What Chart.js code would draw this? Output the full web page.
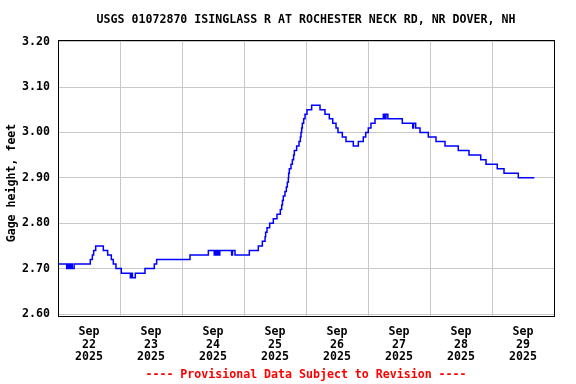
<!DOCTYPE html>
<html>
<head>
<meta charset="utf-8">
<title>USGS 01072870 gage height</title>
<script src="https://cdn.jsdelivr.net/npm/chart.js@4/dist/chart.umd.min.js"></script>
<style>
  body { margin: 0; background: #fff; }
  canvas { display: block; }
</style>
</head>
<body>
<canvas id="gageChart" width="576" height="384"></canvas>
<script>
// days since Sep 22 2025 00:00 where the reading changes
const changeDays = [0, 0.14, 0.155, 0.18, 0.19, 0.205, 0.215, 0.23, 0.26,
  0.521, 0.554, 0.575, 0.608, 0.731, 0.801, 0.86, 0.892, 0.935, 1.021,
  1.167, 1.18, 1.2, 1.247, 1.403, 1.553, 1.591, 2.129, 2.425,
  2.52, 2.535, 2.555, 2.57, 2.59, 2.61, 2.8, 2.815, 2.855, 3.086,
  3.231, 3.296, 3.34, 3.349, 3.371, 3.414, 3.473, 3.532, 3.586, 3.608,
  3.62, 3.634, 3.661, 3.683, 3.699, 3.715, 3.72, 3.731, 3.758, 3.78,
  3.8, 3.812, 3.849, 3.887, 3.909, 3.919, 3.93, 3.941, 3.962, 3.984,
  4.016, 4.091, 4.226, 4.306, 4.376, 4.431, 4.484, 4.516, 4.586, 4.645, 4.763,
  4.844, 4.924, 4.963, 5.005, 5.048, 5.113, 5.247, 5.27, 5.29, 5.32,
  5.553, 5.721, 5.735, 5.769, 5.839, 5.973, 6.097, 6.242, 6.456, 6.629,
  6.818, 6.903, 7.085, 7.194, 7.424, 7.682];

// gage height, feet
const gageFeet = [2.71, 2.70, 2.71, 2.70, 2.71, 2.70, 2.71, 2.70, 2.71,
  2.72, 2.73, 2.74, 2.75, 2.74, 2.73, 2.72, 2.71, 2.70, 2.69,
  2.68, 2.69, 2.68, 2.69, 2.70, 2.71, 2.72, 2.73, 2.74,
  2.73, 2.74, 2.73, 2.74, 2.73, 2.74, 2.73, 2.74, 2.73, 2.74,
  2.75, 2.76, 2.77, 2.78, 2.79, 2.80, 2.81, 2.82, 2.83, 2.84,
  2.85, 2.86, 2.87, 2.88, 2.89, 2.90, 2.91, 2.92, 2.93, 2.94,
  2.95, 2.96, 2.97, 2.98, 2.99, 3.00, 3.01, 3.02, 3.03, 3.04,
  3.05, 3.06, 3.05, 3.04, 3.03, 3.02, 3.01, 3.00, 2.99, 2.98, 2.97,
  2.98, 2.99, 3.00, 3.01, 3.02, 3.03, 3.04, 3.03, 3.04, 3.03,
  3.02, 3.01, 3.02, 3.01, 3.00, 2.99, 2.98, 2.97, 2.96, 2.95,
  2.94, 2.93, 2.92, 2.91, 2.90, 2.90];

const dayLabels = ['22', '23', '24', '25', '26', '27', '28', '29'];
const yTicks = [2.60, 2.70, 2.80, 2.90, 3.00, 3.10, 3.20];

const titleText = 'USGS 01072870 ISINGLASS R AT ROCHESTER NECK RD, NR DOVER, NH';
const yTitleText = 'Gage height, feet';
const footerText = '---- Provisional Data Subject to Revision ----';

const monoFont = "'DejaVu Sans Mono', 'Liberation Mono', monospace";

const points = changeDays.map((d, i) => ({ x: d, y: gageFeet[i] }));

const frameAndText = {
  id: 'frameAndText',
  afterDraw(chart) {
    const ctx = chart.ctx;
    const a = chart.chartArea;
    ctx.save();
    ctx.strokeStyle = '#000';
    ctx.lineWidth = 1;
    ctx.strokeRect(a.left + 0.5, a.top + 0.5, a.right - a.left, a.bottom - a.top);

    ctx.fillStyle = '#000';
    ctx.textAlign = 'center';
    ctx.textBaseline = 'middle';
    ctx.font = 'bold 11.6px ' + monoFont;
    ctx.fillText(titleText, (a.left + a.right) / 2, 20);

    ctx.save();
    ctx.translate(12, 183);
    ctx.rotate(-Math.PI / 2);
    ctx.fillText(yTitleText, 0, 0);
    ctx.restore();

    ctx.fillStyle = '#ff0000';
    ctx.fillText(footerText, (a.left + a.right) / 2, 375);
    ctx.restore();
  }
};

new Chart(document.getElementById('gageChart'), {
  type: 'line',
  data: {
    datasets: [{
      data: points,
      borderColor: '#0000ff',
      borderWidth: 1.5,
      pointRadius: 0,
      stepped: true,
      fill: false
    }]
  },
  options: {
    responsive: false,
    animation: false,
    layout: { padding: { top: 40, right: 22, left: 0, bottom: 0 } },
    plugins: {
      legend: { display: false },
      tooltip: { enabled: false },
      title: { display: false }
    },
    scales: {
      x: {
        type: 'linear',
        min: 0,
        max: 8,
        afterBuildTicks: scale => {
          scale.ticks = [0, 1, 2, 3, 4, 5, 6, 7, 8].map(v => ({ value: v }));
        },
        afterFit: scale => { scale.height = 68; },
        grid: { color: '#c8c8c8', lineWidth: 1, drawTicks: false },
        border: { display: false },
        ticks: {
          autoSkip: false,
          maxRotation: 0,
          padding: 9,
          labelOffset: 31,
          color: '#000',
          font: { family: monoFont, size: 11.6, weight: 'bold', lineHeight: 1.12 },
          callback: v => (v < dayLabels.length ? ['Sep', dayLabels[v], '2025'] : '')
        }
      },
      y: {
        min: 2.5956,
        max: 3.2036,
        afterBuildTicks: scale => {
          scale.ticks = yTicks.map(v => ({ value: v }));
        },
        afterFit: scale => { scale.width = 58; },
        grid: { color: '#c8c8c8', lineWidth: 1, drawTicks: false },
        border: { display: false },
        ticks: {
          padding: 8,
          color: '#000',
          font: { family: monoFont, size: 11.6, weight: 'bold' },
          callback: v => Number(v).toFixed(2)
        }
      }
    }
  },
  plugins: [frameAndText]
});
</script>
</body>
</html>
